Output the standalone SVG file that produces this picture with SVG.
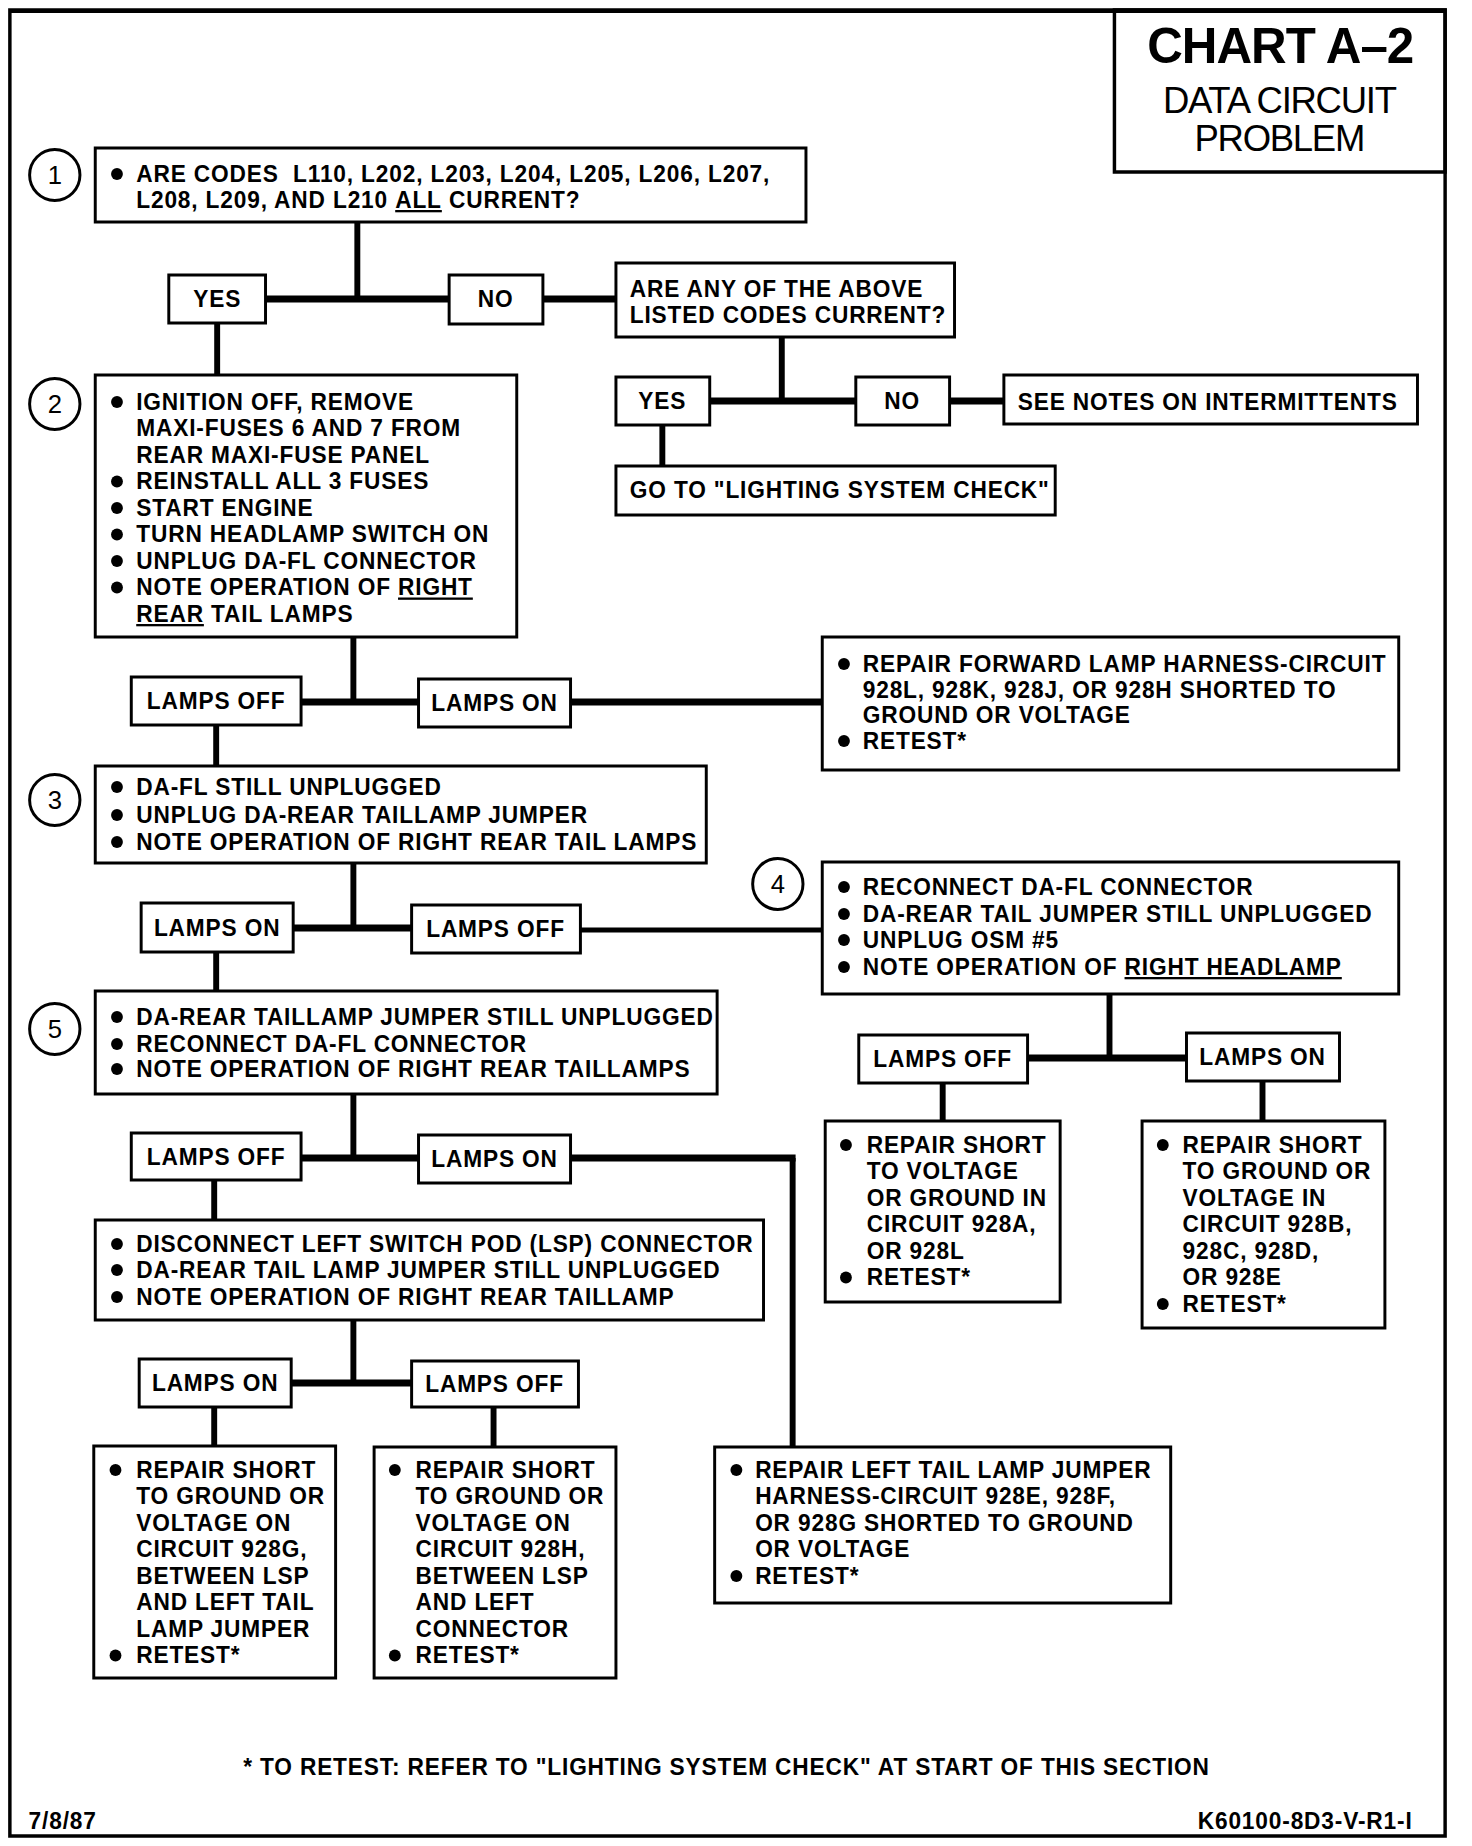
<svg xmlns="http://www.w3.org/2000/svg" width="1472" height="1846" viewBox="0 0 1472 1846">
<style>
.box{fill:#fff;stroke:#000;stroke-width:3}
.t{font-family:"Liberation Sans",Arial,sans-serif;font-weight:bold;font-size:23px;letter-spacing:0.85px;fill:#000}
.m{text-anchor:middle}
.b{fill:#000}
.v{stroke:#000;stroke-width:6;fill:none}
.h{stroke:#000;stroke-width:7;fill:none}
.circ{fill:#fff;stroke:#000;stroke-width:3}
.num{font-family:"Liberation Sans",Arial,sans-serif;font-size:26px;text-anchor:middle;fill:#000}
.u{text-decoration:underline}
.ti{font-family:"Liberation Sans",Arial,sans-serif;text-anchor:middle;fill:#000}
</style>
<rect x="0" y="0" width="1472" height="1846" fill="#fff"/>
<g transform="scale(0.9871,1)">
<rect x="10" y="10" width="1454" height="1826" fill="none" stroke="#000" stroke-width="3.5"/>
<line x1="10" y1="11" x2="1464" y2="11" stroke="#000" stroke-width="4"/>
<g id="title">
<rect x="1129" y="10" width="335" height="162" fill="none" stroke="#000" stroke-width="3.5"/>
<text x="1297" y="63" class="ti" font-weight="bold" font-size="50" letter-spacing="-1">CHART A–2</text>
<text x="1296" y="113" class="ti" font-size="37" letter-spacing="-1.3">DATA CIRCUIT</text>
<text x="1296" y="151" class="ti" font-size="37" letter-spacing="-1.3">PROBLEM</text>
</g>
<g id="connectors">
<line class="v" x1="362" y1="222" x2="362" y2="299"/>
<line class="h" x1="269" y1="299" x2="455" y2="299"/>
<line class="h" x1="550" y1="299" x2="624" y2="299"/>
<line class="v" x1="220" y1="323" x2="220" y2="375"/>
<line class="v" x1="792" y1="337" x2="792" y2="401"/>
<line class="h" x1="719" y1="401" x2="867" y2="401"/>
<line class="h" x1="962" y1="401" x2="1017" y2="401"/>
<line class="v" x1="671" y1="425" x2="671" y2="466"/>
<line class="v" x1="358" y1="637" x2="358" y2="702"/>
<line class="h" x1="305" y1="702" x2="424" y2="702"/>
<line class="h" x1="578" y1="702" x2="833" y2="702"/>
<line class="v" x1="219" y1="725" x2="219" y2="766"/>
<line class="v" x1="358" y1="863" x2="358" y2="928"/>
<line class="h" x1="297" y1="928" x2="417" y2="928"/>
<line x1="588" y1="930" x2="833" y2="930" stroke="#000" stroke-width="5"/>
<line class="v" x1="1124" y1="994" x2="1124" y2="1058"/>
<line class="h" x1="1041" y1="1058" x2="1202" y2="1058"/>
<line class="v" x1="955" y1="1083" x2="955" y2="1121"/>
<line class="v" x1="1279" y1="1081" x2="1279" y2="1121"/>
<line class="v" x1="219" y1="952" x2="219" y2="991"/>
<line class="v" x1="358" y1="1094" x2="358" y2="1158"/>
<line class="h" x1="305" y1="1158" x2="424" y2="1158"/>
<line class="h" x1="578" y1="1158" x2="806" y2="1158"/>
<line class="v" x1="803" y1="1158" x2="803" y2="1447"/>
<line class="v" x1="217" y1="1180" x2="217" y2="1220"/>
<line class="v" x1="358" y1="1320" x2="358" y2="1383"/>
<line class="h" x1="295" y1="1383" x2="417" y2="1383"/>
<line class="v" x1="217" y1="1407" x2="217" y2="1446"/>
<line class="v" x1="500" y1="1407" x2="500" y2="1447"/>
</g>
<g id="step1">
<circle class="circ" cx="55.5" cy="175" r="25.5"/><text class="num" x="55.5" y="184">1</text>
<rect class="box" x="96.5" y="148" width="720" height="74"/>
<circle class="b" cx="118.5" cy="174" r="6"/>
<text class="t" x="138" y="182" xml:space="preserve">ARE CODES  L110, L202, L203, L204, L205, L206, L207,</text>
<text class="t" x="138" y="208">L208, L209, AND L210 <tspan class="u">ALL</tspan> CURRENT?</text>
</g>
<g id="yes1"><rect class="box" x="171" y="275" width="98" height="48"/><text class="t m" x="220" y="307">YES</text></g>
<g id="no1"><rect class="box" x="455" y="275" width="95" height="49"/><text class="t m" x="502" y="307">NO</text></g>
<g id="anycodes">
<rect class="box" x="624" y="263" width="343" height="74"/>
<text class="t" x="638" y="297">ARE ANY OF THE ABOVE</text>
<text class="t" x="638" y="323">LISTED CODES CURRENT?</text>
</g>
<g id="yes2"><rect class="box" x="624" y="377" width="95" height="48"/><text class="t m" x="671" y="409">YES</text></g>
<g id="no2"><rect class="box" x="867" y="377" width="95" height="48"/><text class="t m" x="914" y="409">NO</text></g>
<g id="seenotes"><rect class="box" x="1017" y="375" width="419" height="49"/><text class="t" x="1031" y="410">SEE NOTES ON INTERMITTENTS</text></g>
<g id="goto"><rect class="box" x="624" y="466" width="445" height="49"/><text class="t" x="638" y="498">GO TO "LIGHTING SYSTEM CHECK"</text></g>
<g id="step2">
<circle class="circ" cx="55.5" cy="404" r="25.5"/><text class="num" x="55.5" y="413">2</text>
<rect class="box" x="96.5" y="375" width="427" height="262"/>
<circle class="b" cx="118.5" cy="402" r="6"/><text class="t" x="138" y="410">IGNITION OFF, REMOVE</text>
<text class="t" x="138" y="436.5">MAXI-FUSES 6 AND 7 FROM</text>
<text class="t" x="138" y="463">REAR MAXI-FUSE PANEL</text>
<circle class="b" cx="118.5" cy="481.5" r="6"/><text class="t" x="138" y="489.5">REINSTALL ALL 3 FUSES</text>
<circle class="b" cx="118.5" cy="508" r="6"/><text class="t" x="138" y="516">START ENGINE</text>
<circle class="b" cx="118.5" cy="534.5" r="6"/><text class="t" x="138" y="542.5">TURN HEADLAMP SWITCH ON</text>
<circle class="b" cx="118.5" cy="561" r="6"/><text class="t" x="138" y="569">UNPLUG DA-FL CONNECTOR</text>
<circle class="b" cx="118.5" cy="587.5" r="6"/><text class="t" x="138" y="595.5">NOTE OPERATION OF <tspan class="u">RIGHT</tspan></text>
<text class="t" x="138" y="622"><tspan class="u">REAR</tspan> TAIL LAMPS</text>
</g>
<g id="lampsoff2"><rect class="box" x="133" y="677" width="172" height="48"/><text class="t m" x="219" y="709">LAMPS OFF</text></g>
<g id="lampson2"><rect class="box" x="424" y="679" width="154" height="48"/><text class="t m" x="501" y="711">LAMPS ON</text></g>
<g id="repairforward">
<rect class="box" x="833" y="637" width="584" height="133"/>
<circle class="b" cx="855" cy="664" r="6"/><text class="t" x="874" y="672">REPAIR FORWARD LAMP HARNESS-CIRCUIT</text>
<text class="t" x="874" y="698">928L, 928K, 928J, OR 928H SHORTED TO</text>
<text class="t" x="874" y="723">GROUND OR VOLTAGE</text>
<circle class="b" cx="855" cy="741" r="6"/><text class="t" x="874" y="749">RETEST*</text>
</g>
<g id="step3">
<circle class="circ" cx="55.5" cy="800" r="25.5"/><text class="num" x="55.5" y="809">3</text>
<rect class="box" x="96.5" y="766" width="619" height="97"/>
<circle class="b" cx="118.5" cy="787" r="6"/><text class="t" x="138" y="795">DA-FL STILL UNPLUGGED</text>
<circle class="b" cx="118.5" cy="815" r="6"/><text class="t" x="138" y="823">UNPLUG DA-REAR TAILLAMP JUMPER</text>
<circle class="b" cx="118.5" cy="842" r="6"/><text class="t" x="138" y="850">NOTE OPERATION OF RIGHT REAR TAIL LAMPS</text>
</g>
<g id="lampson3"><rect class="box" x="143" y="903" width="154" height="49"/><text class="t m" x="220" y="936">LAMPS ON</text></g>
<g id="lampsoff3"><rect class="box" x="417" y="905" width="171" height="48"/><text class="t m" x="502" y="937">LAMPS OFF</text></g>
<g id="step4">
<circle class="circ" cx="788" cy="884" r="25.5"/><text class="num" x="788" y="893">4</text>
<rect class="box" x="833" y="862" width="584" height="132"/>
<circle class="b" cx="855" cy="887" r="6"/><text class="t" x="874" y="895">RECONNECT DA-FL CONNECTOR</text>
<circle class="b" cx="855" cy="914" r="6"/><text class="t" x="874" y="922">DA-REAR TAIL JUMPER STILL UNPLUGGED</text>
<circle class="b" cx="855" cy="940" r="6"/><text class="t" x="874" y="948">UNPLUG OSM #5</text>
<circle class="b" cx="855" cy="967" r="6"/><text class="t" x="874" y="975">NOTE OPERATION OF <tspan class="u">RIGHT HEADLAMP</tspan></text>
</g>
<g id="lampsoff4"><rect class="box" x="870" y="1035" width="171" height="48"/><text class="t m" x="955" y="1067">LAMPS OFF</text></g>
<g id="lampson4"><rect class="box" x="1202" y="1033" width="155" height="48"/><text class="t m" x="1279" y="1065">LAMPS ON</text></g>
<g id="repair928a">
<rect class="box" x="836" y="1121" width="238" height="181"/>
<circle class="b" cx="857" cy="1145" r="6"/><text class="t" x="878" y="1153">REPAIR SHORT</text>
<text class="t" x="878" y="1179.5">TO VOLTAGE</text>
<text class="t" x="878" y="1206">OR GROUND IN</text>
<text class="t" x="878" y="1232.5">CIRCUIT 928A,</text>
<text class="t" x="878" y="1259">OR 928L</text>
<circle class="b" cx="857" cy="1277.5" r="6"/><text class="t" x="878" y="1285.5">RETEST*</text>
</g>
<g id="repair928b">
<rect class="box" x="1157" y="1121" width="246" height="207"/>
<circle class="b" cx="1178" cy="1145" r="6"/><text class="t" x="1198" y="1153">REPAIR SHORT</text>
<text class="t" x="1198" y="1179.5">TO GROUND OR</text>
<text class="t" x="1198" y="1206">VOLTAGE IN</text>
<text class="t" x="1198" y="1232.5">CIRCUIT 928B,</text>
<text class="t" x="1198" y="1259">928C, 928D,</text>
<text class="t" x="1198" y="1285.5">OR 928E</text>
<circle class="b" cx="1178" cy="1304" r="6"/><text class="t" x="1198" y="1312">RETEST*</text>
</g>
<g id="step5">
<circle class="circ" cx="55.5" cy="1029" r="25.5"/><text class="num" x="55.5" y="1038">5</text>
<rect class="box" x="96.5" y="991" width="630" height="103"/>
<circle class="b" cx="118.5" cy="1017" r="6"/><text class="t" x="138" y="1025">DA-REAR TAILLAMP JUMPER STILL UNPLUGGED</text>
<circle class="b" cx="118.5" cy="1044" r="6"/><text class="t" x="138" y="1052">RECONNECT DA-FL CONNECTOR</text>
<circle class="b" cx="118.5" cy="1069" r="6"/><text class="t" x="138" y="1077">NOTE OPERATION OF RIGHT REAR TAILLAMPS</text>
</g>
<g id="lampsoff5"><rect class="box" x="133" y="1133" width="172" height="47"/><text class="t m" x="219" y="1165">LAMPS OFF</text></g>
<g id="lampson5"><rect class="box" x="424" y="1135" width="154" height="48"/><text class="t m" x="501" y="1167">LAMPS ON</text></g>
<g id="disconnect">
<rect class="box" x="96.5" y="1220" width="677" height="100"/>
<circle class="b" cx="118.5" cy="1244" r="6"/><text class="t" x="138" y="1252">DISCONNECT LEFT SWITCH POD (LSP) CONNECTOR</text>
<circle class="b" cx="118.5" cy="1270" r="6"/><text class="t" x="138" y="1278">DA-REAR TAIL LAMP JUMPER STILL UNPLUGGED</text>
<circle class="b" cx="118.5" cy="1297" r="6"/><text class="t" x="138" y="1305">NOTE OPERATION OF RIGHT REAR TAILLAMP</text>
</g>
<g id="lampson6"><rect class="box" x="141" y="1359" width="154" height="48"/><text class="t m" x="218" y="1391">LAMPS ON</text></g>
<g id="lampsoff6"><rect class="box" x="417" y="1361" width="169" height="46"/><text class="t m" x="501" y="1392">LAMPS OFF</text></g>
<g id="repair928g">
<rect class="box" x="95" y="1446" width="245" height="232"/>
<circle class="b" cx="117" cy="1470" r="6"/><text class="t" x="138" y="1478">REPAIR SHORT</text>
<text class="t" x="138" y="1504.5">TO GROUND OR</text>
<text class="t" x="138" y="1531">VOLTAGE ON</text>
<text class="t" x="138" y="1557.5">CIRCUIT 928G,</text>
<text class="t" x="138" y="1584">BETWEEN LSP</text>
<text class="t" x="138" y="1610.5">AND LEFT TAIL</text>
<text class="t" x="138" y="1637">LAMP JUMPER</text>
<circle class="b" cx="117" cy="1655.5" r="6"/><text class="t" x="138" y="1663.5">RETEST*</text>
</g>
<g id="repair928h">
<rect class="box" x="379" y="1447" width="245" height="231"/>
<circle class="b" cx="400" cy="1470" r="6"/><text class="t" x="421" y="1478">REPAIR SHORT</text>
<text class="t" x="421" y="1504.5">TO GROUND OR</text>
<text class="t" x="421" y="1531">VOLTAGE ON</text>
<text class="t" x="421" y="1557.5">CIRCUIT 928H,</text>
<text class="t" x="421" y="1584">BETWEEN LSP</text>
<text class="t" x="421" y="1610.5">AND LEFT</text>
<text class="t" x="421" y="1637">CONNECTOR</text>
<circle class="b" cx="400" cy="1655.5" r="6"/><text class="t" x="421" y="1663.5">RETEST*</text>
</g>
<g id="repairlefttail">
<rect class="box" x="724" y="1447" width="462" height="156"/>
<circle class="b" cx="746" cy="1470" r="6"/><text class="t" x="765" y="1478">REPAIR LEFT TAIL LAMP JUMPER</text>
<text class="t" x="765" y="1504.5">HARNESS-CIRCUIT 928E, 928F,</text>
<text class="t" x="765" y="1531">OR 928G SHORTED TO GROUND</text>
<text class="t" x="765" y="1557.5">OR VOLTAGE</text>
<circle class="b" cx="746" cy="1576" r="6"/><text class="t" x="765" y="1584">RETEST*</text>
</g>
<g id="footer">
<text class="t m" x="736" y="1775">* TO RETEST: REFER TO "LIGHTING SYSTEM CHECK" AT START OF THIS SECTION</text>
<text class="t" x="29" y="1829">7/8/87</text>
<text class="t" x="1431" y="1829" text-anchor="end">K60100-8D3-V-R1-I</text>
</g>
</g>
</svg>
